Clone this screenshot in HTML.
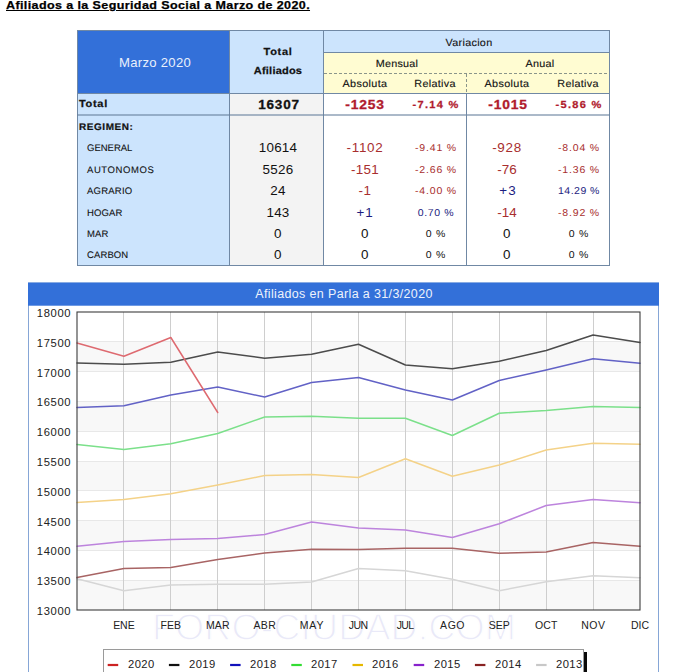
<!DOCTYPE html>
<html lang="es"><head><meta charset="utf-8"><title>Afiliados a la Seguridad Social</title>
<style>
html,body{margin:0;padding:0;background:#fff;}
body{width:700px;height:672px;position:relative;overflow:hidden;font-family:"Liberation Sans",sans-serif;}
.t{position:absolute;white-space:nowrap;line-height:1;font-family:"Liberation Sans",sans-serif;}
.b{position:absolute;}
</style></head>
<body>
<div class="b" style="left:77px;top:30px;width:533px;height:235px;background:#fff;"></div>
<div class="b" style="left:77px;top:30px;width:152px;height:63px;background:#3370d9;"></div>
<div class="b" style="left:230px;top:30px;width:93px;height:63px;background:#cce4fd;"></div>
<div class="b" style="left:323px;top:30px;width:286px;height:23px;background:#cce4fd;"></div>
<div class="b" style="left:323px;top:53px;width:286px;height:40px;background:#fffcd2;"></div>
<div class="b" style="left:77px;top:93px;width:153px;height:172px;background:#cce4fd;"></div>
<div class="b" style="left:230px;top:93px;width:93px;height:172px;background:#f3f3f3;"></div>
<div class="b" style="left:77px;top:30px;width:533px;height:0;border-top:1px solid #7088a4;"></div>
<div class="b" style="left:77px;top:265px;width:533px;height:0;border-top:1px solid #7088a4;"></div>
<div class="b" style="left:77px;top:30px;width:0;height:235px;border-left:1px solid #7088a4;"></div>
<div class="b" style="left:609px;top:30px;width:0;height:236px;border-left:1px solid #7088a4;"></div>
<div class="b" style="left:229px;top:30px;width:0;height:235px;border-left:1px solid #7088a4;"></div>
<div class="b" style="left:323px;top:30px;width:0;height:235px;border-left:1px solid #7088a4;"></div>
<div class="b" style="left:323px;top:52px;width:286px;height:0;border-top:1px solid #7088a4;"></div>
<div class="b" style="left:77px;top:93px;width:533px;height:0;border-top:1px solid #7088a4;"></div>
<div class="b" style="left:77px;top:114px;width:533px;height:2px;background:rgba(102,127,156,0.55);"></div>
<div class="b" style="left:324px;top:73px;width:285px;height:1px;background:repeating-linear-gradient(90deg,#8a958a 0 3px,transparent 3px 5px);"></div>
<div class="b" style="left:466px;top:74px;width:1px;height:19px;background:repeating-linear-gradient(180deg,#8a958a 0 3px,transparent 3px 5px);"></div>
<div class="b" style="left:466px;top:93px;width:0;height:172px;border-left:1px solid #7088a4;"></div>
<svg width="700" height="672" viewBox="0 0 700 672" style="position:absolute;left:0;top:0">
<rect x="28.5" y="283" width="630" height="400" fill="#fff" stroke="#86a6d6" stroke-width="1"/>
<rect x="28" y="282.6" width="631" height="23.1" fill="#3370d9"/>
<rect x="77.0" y="341.80" width="563.0" height="29.80" fill="#f8f8f8"/>
<rect x="77.0" y="401.40" width="563.0" height="29.80" fill="#f8f8f8"/>
<rect x="77.0" y="461.00" width="563.0" height="29.80" fill="#f8f8f8"/>
<rect x="77.0" y="520.60" width="563.0" height="29.80" fill="#f8f8f8"/>
<rect x="77.0" y="580.20" width="563.0" height="29.80" fill="#f8f8f8"/>
<line x1="77.0" y1="341.50" x2="640.0" y2="341.50" stroke="#e8e8e8" stroke-width="1"/>
<line x1="77.0" y1="371.50" x2="640.0" y2="371.50" stroke="#e8e8e8" stroke-width="1"/>
<line x1="77.0" y1="401.50" x2="640.0" y2="401.50" stroke="#e8e8e8" stroke-width="1"/>
<line x1="77.0" y1="431.50" x2="640.0" y2="431.50" stroke="#e8e8e8" stroke-width="1"/>
<line x1="77.0" y1="461.50" x2="640.0" y2="461.50" stroke="#e8e8e8" stroke-width="1"/>
<line x1="77.0" y1="490.50" x2="640.0" y2="490.50" stroke="#e8e8e8" stroke-width="1"/>
<line x1="77.0" y1="520.50" x2="640.0" y2="520.50" stroke="#e8e8e8" stroke-width="1"/>
<line x1="77.0" y1="550.50" x2="640.0" y2="550.50" stroke="#e8e8e8" stroke-width="1"/>
<line x1="77.0" y1="580.50" x2="640.0" y2="580.50" stroke="#e8e8e8" stroke-width="1"/>
<line x1="123.50" y1="312.0" x2="123.50" y2="610.0" stroke="#cecece" stroke-width="1"/>
<line x1="170.50" y1="312.0" x2="170.50" y2="610.0" stroke="#cecece" stroke-width="1"/>
<line x1="217.50" y1="312.0" x2="217.50" y2="610.0" stroke="#cecece" stroke-width="1"/>
<line x1="264.50" y1="312.0" x2="264.50" y2="610.0" stroke="#cecece" stroke-width="1"/>
<line x1="311.50" y1="312.0" x2="311.50" y2="610.0" stroke="#cecece" stroke-width="1"/>
<line x1="358.50" y1="312.0" x2="358.50" y2="610.0" stroke="#cecece" stroke-width="1"/>
<line x1="405.50" y1="312.0" x2="405.50" y2="610.0" stroke="#cecece" stroke-width="1"/>
<line x1="452.50" y1="312.0" x2="452.50" y2="610.0" stroke="#cecece" stroke-width="1"/>
<line x1="499.50" y1="312.0" x2="499.50" y2="610.0" stroke="#cecece" stroke-width="1"/>
<line x1="546.50" y1="312.0" x2="546.50" y2="610.0" stroke="#cecece" stroke-width="1"/>
<line x1="593.50" y1="312.0" x2="593.50" y2="610.0" stroke="#cecece" stroke-width="1"/>
<text x="334" y="639.5" text-anchor="middle" font-family="Liberation Sans, sans-serif" font-size="37.5" fill="#e9e9f8" stroke="#ffffff" stroke-width="1.3" textLength="364" lengthAdjust="spacing">FORO-CIUDAD.COM</text>
<polyline points="77.00,578.75 123.92,590.75 170.83,585.00 217.75,584.25 264.67,584.25 311.58,582.00 358.50,568.50 405.42,570.75 452.33,579.25 499.25,590.75 546.17,581.75 593.08,575.75 640.00,577.75" fill="none" stroke="#d6d6d6" stroke-width="1.5" stroke-linejoin="round" stroke-linecap="round"/>
<polyline points="77.00,577.50 123.92,568.50 170.83,567.50 217.75,559.50 264.67,553.00 311.58,549.25 358.50,549.50 405.42,548.25 452.33,548.25 499.25,553.25 546.17,552.00 593.08,542.50 640.00,546.25" fill="none" stroke="#a86464" stroke-width="1.5" stroke-linejoin="round" stroke-linecap="round"/>
<polyline points="77.00,546.25 123.92,541.50 170.83,539.50 217.75,538.50 264.67,534.50 311.58,522.00 358.50,528.00 405.42,530.00 452.33,537.50 499.25,523.75 546.17,505.50 593.08,499.50 640.00,502.75" fill="none" stroke="#bd84dd" stroke-width="1.5" stroke-linejoin="round" stroke-linecap="round"/>
<polyline points="77.00,502.50 123.92,499.50 170.83,493.75 217.75,485.00 264.67,475.50 311.58,474.50 358.50,477.50 405.42,458.75 452.33,476.25 499.25,465.00 546.17,450.00 593.08,443.25 640.00,444.25" fill="none" stroke="#f4d288" stroke-width="1.5" stroke-linejoin="round" stroke-linecap="round"/>
<polyline points="77.00,444.50 123.92,449.50 170.83,443.75 217.75,433.50 264.67,417.00 311.58,416.25 358.50,418.25 405.42,418.25 452.33,435.50 499.25,413.25 546.17,410.50 593.08,406.50 640.00,407.50" fill="none" stroke="#7be08a" stroke-width="1.5" stroke-linejoin="round" stroke-linecap="round"/>
<polyline points="77.00,407.50 123.92,405.75 170.83,395.00 217.75,387.00 264.67,397.00 311.58,382.50 358.50,377.50 405.42,390.00 452.33,400.00 499.25,380.50 546.17,370.00 593.08,358.75 640.00,363.25" fill="none" stroke="#6262c6" stroke-width="1.5" stroke-linejoin="round" stroke-linecap="round"/>
<polyline points="77.00,363.00 123.92,364.25 170.83,362.25 217.75,352.00 264.67,358.25 311.58,354.25 358.50,344.25 405.42,365.00 452.33,368.75 499.25,361.25 546.17,350.50 593.08,335.00 640.00,342.50" fill="none" stroke="#4c4c4c" stroke-width="1.5" stroke-linejoin="round" stroke-linecap="round"/>
<polyline points="77.00,343.00 123.92,356.25 170.83,337.50 217.75,412.50" fill="none" stroke="#de6a70" stroke-width="1.5" stroke-linejoin="round" stroke-linecap="round"/>
<rect x="77.0" y="312.0" width="563.0" height="298.0" fill="none" stroke="#3c3c3c" stroke-width="1.1"/>
<rect x="103.5" y="649.5" width="480" height="40" fill="#fff" stroke="#9a9a9a" stroke-width="1"/>
<rect x="584" y="652" width="3" height="30" fill="#0a0a0a"/>
<rect x="107.70" y="663.9" width="10.5" height="2.2" fill="#cc2222"/>
<rect x="168.90" y="663.9" width="10.5" height="2.2" fill="#111111"/>
<rect x="230.10" y="663.9" width="10.5" height="2.2" fill="#1111bb"/>
<rect x="291.30" y="663.9" width="10.5" height="2.2" fill="#33dd33"/>
<rect x="352.50" y="663.9" width="10.5" height="2.2" fill="#e6b800"/>
<rect x="413.70" y="663.9" width="10.5" height="2.2" fill="#8822cc"/>
<rect x="474.90" y="663.9" width="10.5" height="2.2" fill="#882222"/>
<rect x="536.10" y="663.9" width="10.5" height="2.2" fill="#c8c8c8"/>
</svg>
<span class="t" id="t0" style="top:-0.67px;font-size:11.6px;color:#000;font-weight:bold;letter-spacing:0.361px;text-decoration:underline;text-decoration-thickness:1.3px;text-underline-offset:1px;-webkit-text-stroke:0.25px #000;left:6.00px;transform-origin:0 50%;transform:scaleX(1.08);">Afiliados a la Seguridad Social a Marzo de 2020.</span>
<span class="t" id="t1" style="top:57.24px;font-size:12.6px;color:#eaf1fc;letter-spacing:0.284px;left:154.65px;transform:translateX(-50%) scaleX(1.04);">Marzo 2020</span>
<span class="t" id="t2" style="top:48.22px;font-size:10.2px;color:#111;font-weight:bold;letter-spacing:0.640px;text-rendering:geometricPrecision;-webkit-text-stroke:0.25px #111;left:277.85px;transform:translateX(-50%) scaleX(1.08);">Total</span>
<span class="t" id="t3" style="top:67.22px;font-size:10.2px;color:#111;font-weight:bold;letter-spacing:0.200px;text-rendering:geometricPrecision;-webkit-text-stroke:0.25px #111;left:278.11px;transform:translateX(-50%) scaleX(1.08);">Afiliados</span>
<span class="t" id="t4" style="top:38.57px;font-size:10.3px;color:#111;letter-spacing:0.280px;text-rendering:geometricPrecision;-webkit-text-stroke:0.12px #111;left:468.65px;transform:translateX(-50%) scaleX(1.05);">Variacion</span>
<span class="t" id="t5" style="top:59.57px;font-size:10.3px;color:#111;letter-spacing:0.212px;text-rendering:geometricPrecision;-webkit-text-stroke:0.12px #111;left:396.81px;transform:translateX(-50%) scaleX(1.05);">Mensual</span>
<span class="t" id="t6" style="top:59.57px;font-size:10.3px;color:#111;letter-spacing:0.241px;text-rendering:geometricPrecision;-webkit-text-stroke:0.12px #111;left:540.13px;transform:translateX(-50%) scaleX(1.05);">Anual</span>
<span class="t" id="t7" style="top:79.57px;font-size:10.3px;color:#111;letter-spacing:0.339px;text-rendering:geometricPrecision;-webkit-text-stroke:0.12px #111;left:364.68px;transform:translateX(-50%) scaleX(1.05);">Absoluta</span>
<span class="t" id="t8" style="top:79.57px;font-size:10.3px;color:#111;letter-spacing:0.281px;text-rendering:geometricPrecision;-webkit-text-stroke:0.12px #111;left:435.35px;transform:translateX(-50%) scaleX(1.05);">Relativa</span>
<span class="t" id="t9" style="top:79.57px;font-size:10.3px;color:#111;letter-spacing:0.339px;text-rendering:geometricPrecision;-webkit-text-stroke:0.12px #111;left:507.18px;transform:translateX(-50%) scaleX(1.05);">Absoluta</span>
<span class="t" id="t10" style="top:79.57px;font-size:10.3px;color:#111;letter-spacing:0.281px;text-rendering:geometricPrecision;-webkit-text-stroke:0.12px #111;left:578.35px;transform:translateX(-50%) scaleX(1.05);">Relativa</span>
<span class="t" id="t11" style="top:100.22px;font-size:10.2px;color:#111;font-weight:bold;letter-spacing:0.640px;text-rendering:geometricPrecision;-webkit-text-stroke:0.25px #111;left:78.70px;transform-origin:0 50%;transform:scaleX(1.08);">Total</span>
<span class="t" id="t12" style="top:99.19px;font-size:12.5px;color:#111;font-weight:bold;letter-spacing:0.755px;-webkit-text-stroke:0.3px #111;left:278.91px;transform:translateX(-50%) scaleX(1.08);">16307</span>
<span class="t" id="t13" style="top:98.55px;font-size:12.8px;color:#b01a2c;font-weight:bold;letter-spacing:0.796px;-webkit-text-stroke:0.3px #b01a2c;left:364.63px;transform:translateX(-50%) scaleX(1.08);">-1253</span>
<span class="t" id="t14" style="top:100.52px;font-size:10.2px;color:#b01a2c;font-weight:bold;letter-spacing:1.190px;text-rendering:geometricPrecision;-webkit-text-stroke:0.25px #b01a2c;left:436.14px;transform:translateX(-50%) scaleX(1.08);">-7.14 %</span>
<span class="t" id="t15" style="top:98.55px;font-size:12.8px;color:#b01a2c;font-weight:bold;letter-spacing:0.796px;-webkit-text-stroke:0.3px #b01a2c;left:507.63px;transform:translateX(-50%) scaleX(1.08);">-1015</span>
<span class="t" id="t16" style="top:100.52px;font-size:10.2px;color:#b01a2c;font-weight:bold;letter-spacing:1.190px;text-rendering:geometricPrecision;-webkit-text-stroke:0.25px #b01a2c;left:579.14px;transform:translateX(-50%) scaleX(1.08);">-5.86 %</span>
<span class="t" id="t17" style="top:123.31px;font-size:9.6px;color:#111;font-weight:bold;letter-spacing:0.538px;text-rendering:geometricPrecision;-webkit-text-stroke:0.2px #111;left:79.40px;transform-origin:0 50%;transform:scaleX(1.04);">REGIMEN:</span>
<span class="t" id="t18" style="top:144.11px;font-size:9.5px;color:#111;letter-spacing:-0.007px;text-rendering:geometricPrecision;-webkit-text-stroke:0.1px #111;left:87.00px;">GENERAL</span>
<span class="t" id="t19" style="top:142.25px;font-size:12.8px;color:#111;letter-spacing:0.244px;left:278.13px;transform:translateX(-50%) scaleX(1.05);">10614</span>
<span class="t" id="t20" style="top:142.25px;font-size:12.8px;color:#a82e2e;letter-spacing:0.720px;left:364.88px;transform:translateX(-50%) scaleX(1.05);">-1102</span>
<span class="t" id="t21" style="top:144.42px;font-size:10.0px;color:#a82e2e;letter-spacing:0.777px;text-rendering:geometricPrecision;left:435.71px;transform:translateX(-50%) scaleX(1.05);">-9.41 %</span>
<span class="t" id="t22" style="top:142.25px;font-size:12.8px;color:#a82e2e;letter-spacing:0.654px;left:507.34px;transform:translateX(-50%) scaleX(1.05);">-928</span>
<span class="t" id="t23" style="top:144.42px;font-size:10.0px;color:#a82e2e;letter-spacing:0.777px;text-rendering:geometricPrecision;left:578.81px;transform:translateX(-50%) scaleX(1.05);">-8.04 %</span>
<span class="t" id="t24" style="top:165.91px;font-size:9.5px;color:#111;letter-spacing:0.583px;text-rendering:geometricPrecision;-webkit-text-stroke:0.1px #111;left:87.00px;">AUTONOMOS</span>
<span class="t" id="t25" style="top:164.05px;font-size:12.8px;color:#111;letter-spacing:0.300px;left:278.16px;transform:translateX(-50%) scaleX(1.05);">5526</span>
<span class="t" id="t26" style="top:164.05px;font-size:12.8px;color:#a82e2e;letter-spacing:0.297px;left:364.66px;transform:translateX(-50%) scaleX(1.05);">-151</span>
<span class="t" id="t27" style="top:166.22px;font-size:10.0px;color:#a82e2e;letter-spacing:0.777px;text-rendering:geometricPrecision;left:435.71px;transform:translateX(-50%) scaleX(1.05);">-2.66 %</span>
<span class="t" id="t28" style="top:164.05px;font-size:12.8px;color:#a82e2e;letter-spacing:0.072px;left:507.04px;transform:translateX(-50%) scaleX(1.05);">-76</span>
<span class="t" id="t29" style="top:166.22px;font-size:10.0px;color:#a82e2e;letter-spacing:0.777px;text-rendering:geometricPrecision;left:578.81px;transform:translateX(-50%) scaleX(1.05);">-1.36 %</span>
<span class="t" id="t30" style="top:186.91px;font-size:9.5px;color:#111;letter-spacing:0.220px;text-rendering:geometricPrecision;-webkit-text-stroke:0.1px #111;left:87.00px;">AGRARIO</span>
<span class="t" id="t31" style="top:185.05px;font-size:12.8px;color:#111;letter-spacing:0.336px;left:278.18px;transform:translateX(-50%) scaleX(1.05);">24</span>
<span class="t" id="t32" style="top:185.05px;font-size:12.8px;color:#a82e2e;letter-spacing:0.568px;left:364.80px;transform:translateX(-50%) scaleX(1.05);">-1</span>
<span class="t" id="t33" style="top:187.22px;font-size:10.0px;color:#a82e2e;letter-spacing:0.777px;text-rendering:geometricPrecision;left:435.71px;transform:translateX(-50%) scaleX(1.05);">-4.00 %</span>
<span class="t" id="t34" style="top:185.05px;font-size:12.8px;color:#1c1c80;letter-spacing:1.109px;left:507.58px;transform:translateX(-50%) scaleX(1.05);">+3</span>
<span class="t" id="t35" style="top:187.22px;font-size:10.0px;color:#1c1c80;letter-spacing:0.457px;text-rendering:geometricPrecision;left:578.64px;transform:translateX(-50%) scaleX(1.05);">14.29 %</span>
<span class="t" id="t36" style="top:208.61px;font-size:9.5px;color:#111;letter-spacing:0.102px;text-rendering:geometricPrecision;-webkit-text-stroke:0.1px #111;left:87.00px;">HOGAR</span>
<span class="t" id="t37" style="top:206.75px;font-size:12.8px;color:#111;letter-spacing:0.230px;left:278.12px;transform:translateX(-50%) scaleX(1.05);">143</span>
<span class="t" id="t38" style="top:206.75px;font-size:12.8px;color:#1c1c80;letter-spacing:0.871px;left:364.96px;transform:translateX(-50%) scaleX(1.05);">+1</span>
<span class="t" id="t39" style="top:208.92px;font-size:10.0px;color:#1c1c80;letter-spacing:0.588px;text-rendering:geometricPrecision;left:435.61px;transform:translateX(-50%) scaleX(1.05);">0.70 %</span>
<span class="t" id="t40" style="top:206.75px;font-size:12.8px;color:#a82e2e;letter-spacing:0.072px;left:507.04px;transform:translateX(-50%) scaleX(1.05);">-14</span>
<span class="t" id="t41" style="top:208.92px;font-size:10.0px;color:#a82e2e;letter-spacing:0.777px;text-rendering:geometricPrecision;left:578.81px;transform:translateX(-50%) scaleX(1.05);">-8.92 %</span>
<span class="t" id="t42" style="top:229.81px;font-size:9.5px;color:#111;letter-spacing:0.077px;text-rendering:geometricPrecision;-webkit-text-stroke:0.1px #111;left:87.00px;">MAR</span>
<span class="t" id="t43" style="top:227.95px;font-size:12.8px;color:#111;letter-spacing:0.639px;left:278.34px;transform:translateX(-50%) scaleX(1.05);">0</span>
<span class="t" id="t44" style="top:227.95px;font-size:12.8px;color:#111;letter-spacing:0.639px;left:364.84px;transform:translateX(-50%) scaleX(1.05);">0</span>
<span class="t" id="t45" style="top:230.12px;font-size:10.0px;color:#111;letter-spacing:0.731px;text-rendering:geometricPrecision;left:435.68px;transform:translateX(-50%) scaleX(1.05);">0 %</span>
<span class="t" id="t46" style="top:227.95px;font-size:12.8px;color:#111;letter-spacing:0.639px;left:507.34px;transform:translateX(-50%) scaleX(1.05);">0</span>
<span class="t" id="t47" style="top:230.12px;font-size:10.0px;color:#111;letter-spacing:0.731px;text-rendering:geometricPrecision;left:578.78px;transform:translateX(-50%) scaleX(1.05);">0 %</span>
<span class="t" id="t48" style="top:251.11px;font-size:9.5px;color:#111;letter-spacing:0.116px;text-rendering:geometricPrecision;-webkit-text-stroke:0.1px #111;left:87.00px;">CARBON</span>
<span class="t" id="t49" style="top:249.25px;font-size:12.8px;color:#111;letter-spacing:0.639px;left:278.34px;transform:translateX(-50%) scaleX(1.05);">0</span>
<span class="t" id="t50" style="top:249.25px;font-size:12.8px;color:#111;letter-spacing:0.639px;left:364.84px;transform:translateX(-50%) scaleX(1.05);">0</span>
<span class="t" id="t51" style="top:251.42px;font-size:10.0px;color:#111;letter-spacing:0.731px;text-rendering:geometricPrecision;left:435.68px;transform:translateX(-50%) scaleX(1.05);">0 %</span>
<span class="t" id="t52" style="top:249.25px;font-size:12.8px;color:#111;letter-spacing:0.639px;left:507.34px;transform:translateX(-50%) scaleX(1.05);">0</span>
<span class="t" id="t53" style="top:251.42px;font-size:10.0px;color:#111;letter-spacing:0.731px;text-rendering:geometricPrecision;left:578.78px;transform:translateX(-50%) scaleX(1.05);">0 %</span>
<span class="t" id="t54" style="top:288.44px;font-size:12.0px;color:#eef3fc;letter-spacing:0.354px;left:343.68px;transform:translateX(-50%) scaleX(1.04);">Afiliados en Parla a 31/3/2020</span>
<span class="t" id="t55" style="top:307.92px;font-size:10.6px;color:#222;letter-spacing:0.607px;left:53.62px;transform:translateX(-50%) scaleX(1.06);">18000</span>
<span class="t" id="t56" style="top:337.72px;font-size:10.6px;color:#222;letter-spacing:0.607px;left:53.62px;transform:translateX(-50%) scaleX(1.06);">17500</span>
<span class="t" id="t57" style="top:367.52px;font-size:10.6px;color:#222;letter-spacing:0.607px;left:53.62px;transform:translateX(-50%) scaleX(1.06);">17000</span>
<span class="t" id="t58" style="top:397.32px;font-size:10.6px;color:#222;letter-spacing:0.607px;left:53.62px;transform:translateX(-50%) scaleX(1.06);">16500</span>
<span class="t" id="t59" style="top:427.12px;font-size:10.6px;color:#222;letter-spacing:0.607px;left:53.62px;transform:translateX(-50%) scaleX(1.06);">16000</span>
<span class="t" id="t60" style="top:456.92px;font-size:10.6px;color:#222;letter-spacing:0.607px;left:53.62px;transform:translateX(-50%) scaleX(1.06);">15500</span>
<span class="t" id="t61" style="top:486.72px;font-size:10.6px;color:#222;letter-spacing:0.607px;left:53.62px;transform:translateX(-50%) scaleX(1.06);">15000</span>
<span class="t" id="t62" style="top:516.52px;font-size:10.6px;color:#222;letter-spacing:0.607px;left:53.62px;transform:translateX(-50%) scaleX(1.06);">14500</span>
<span class="t" id="t63" style="top:546.32px;font-size:10.6px;color:#222;letter-spacing:0.607px;left:53.62px;transform:translateX(-50%) scaleX(1.06);">14000</span>
<span class="t" id="t64" style="top:576.12px;font-size:10.6px;color:#222;letter-spacing:0.607px;left:53.62px;transform:translateX(-50%) scaleX(1.06);">13500</span>
<span class="t" id="t65" style="top:605.92px;font-size:10.6px;color:#222;letter-spacing:0.607px;left:53.62px;transform:translateX(-50%) scaleX(1.06);">13000</span>
<span class="t" id="t66" style="top:619.87px;font-size:10.5px;color:#222;letter-spacing:-0.050px;left:123.89px;transform:translateX(-50%);">ENE</span>
<span class="t" id="t67" style="top:619.87px;font-size:10.5px;color:#222;letter-spacing:0.008px;left:170.84px;transform:translateX(-50%);">FEB</span>
<span class="t" id="t68" style="top:619.87px;font-size:10.5px;color:#222;letter-spacing:0.200px;left:217.85px;transform:translateX(-50%);">MAR</span>
<span class="t" id="t69" style="top:619.87px;font-size:10.5px;color:#222;letter-spacing:0.284px;left:264.81px;transform:translateX(-50%);">ABR</span>
<span class="t" id="t70" style="top:619.87px;font-size:10.5px;color:#222;letter-spacing:0.820px;left:311.99px;transform:translateX(-50%);">MAY</span>
<span class="t" id="t71" style="top:619.87px;font-size:10.5px;color:#222;letter-spacing:-0.492px;left:358.25px;transform:translateX(-50%);">JUN</span>
<span class="t" id="t72" style="top:619.87px;font-size:10.5px;color:#222;letter-spacing:-0.581px;left:405.13px;transform:translateX(-50%);">JUL</span>
<span class="t" id="t73" style="top:619.87px;font-size:10.5px;color:#222;letter-spacing:0.534px;left:452.60px;transform:translateX(-50%);">AGO</span>
<span class="t" id="t74" style="top:619.87px;font-size:10.5px;color:#222;letter-spacing:-0.024px;left:499.24px;transform:translateX(-50%);">SEP</span>
<span class="t" id="t75" style="top:619.87px;font-size:10.5px;color:#222;letter-spacing:0.091px;left:546.21px;transform:translateX(-50%);">OCT</span>
<span class="t" id="t76" style="top:619.87px;font-size:10.5px;color:#222;letter-spacing:0.560px;left:593.36px;transform:translateX(-50%);">NOV</span>
<span class="t" id="t77" style="top:619.87px;font-size:10.5px;color:#222;letter-spacing:-0.050px;left:639.98px;transform:translateX(-50%);">DIC</span>
<span class="t" id="t78" style="top:658.82px;font-size:10.6px;color:#222;letter-spacing:0.368px;left:128.00px;transform-origin:0 50%;transform:scaleX(1.06);">2020</span>
<span class="t" id="t79" style="top:658.82px;font-size:10.6px;color:#222;letter-spacing:0.368px;left:189.10px;transform-origin:0 50%;transform:scaleX(1.06);">2019</span>
<span class="t" id="t80" style="top:658.82px;font-size:10.6px;color:#222;letter-spacing:0.368px;left:250.20px;transform-origin:0 50%;transform:scaleX(1.06);">2018</span>
<span class="t" id="t81" style="top:658.82px;font-size:10.6px;color:#222;letter-spacing:0.368px;left:311.30px;transform-origin:0 50%;transform:scaleX(1.06);">2017</span>
<span class="t" id="t82" style="top:658.82px;font-size:10.6px;color:#222;letter-spacing:0.368px;left:372.40px;transform-origin:0 50%;transform:scaleX(1.06);">2016</span>
<span class="t" id="t83" style="top:658.82px;font-size:10.6px;color:#222;letter-spacing:0.368px;left:433.50px;transform-origin:0 50%;transform:scaleX(1.06);">2015</span>
<span class="t" id="t84" style="top:658.82px;font-size:10.6px;color:#222;letter-spacing:0.368px;left:494.60px;transform-origin:0 50%;transform:scaleX(1.06);">2014</span>
<span class="t" id="t85" style="top:658.82px;font-size:10.6px;color:#222;letter-spacing:0.368px;left:555.70px;transform-origin:0 50%;transform:scaleX(1.06);">2013</span>
</body></html>
